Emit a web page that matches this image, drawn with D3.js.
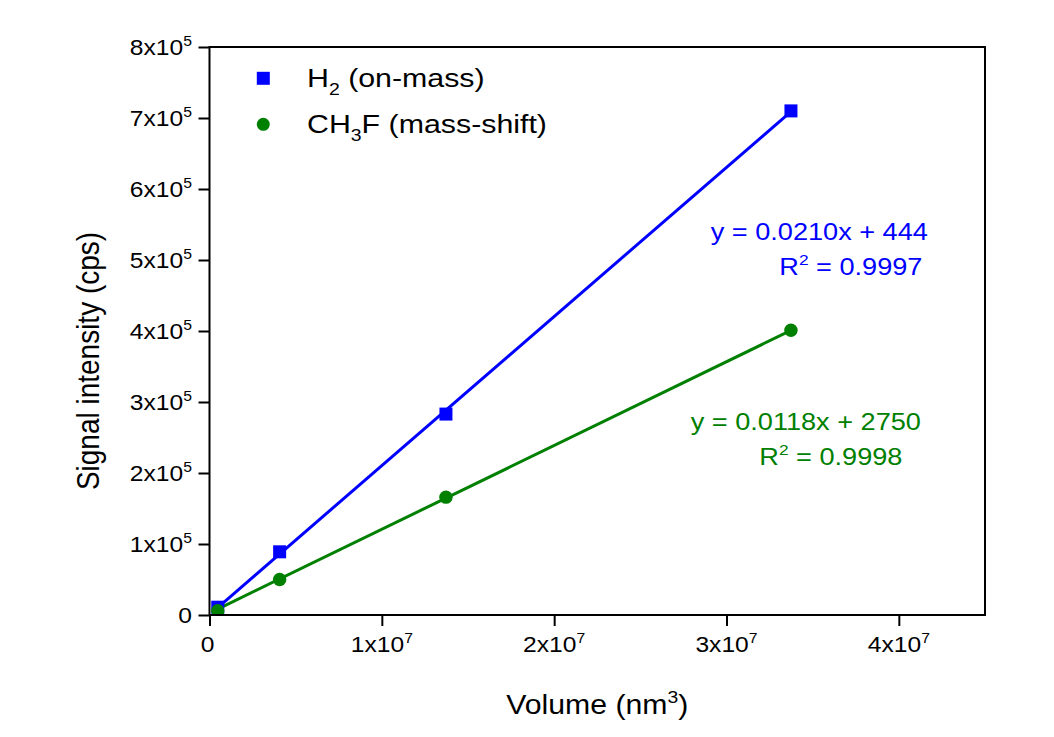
<!DOCTYPE html>
<html>
<head>
<meta charset="utf-8">
<script src="https://cdn.jsdelivr.net/npm/d3@7"></script>
<style>
  html, body { margin: 0; padding: 0; background: #ffffff; }
  svg { display: block; font-family: "Liberation Sans", Arial, Helvetica, sans-serif; }
</style>
</head>
<body>
<svg id="chart" width="1054" height="737"></svg>
<script>
// ---- data ----
const volumes = [4.8e5, 4.07e6, 1.372e7, 3.374e7];          // nm^3
const h2Signal = [1.1e4, 8.9e4, 2.83e5, 7.10e5];            // cps, H2 on-mass
const ch3fSignal = [6.0e3, 5.0e4, 1.66e5, 4.01e5];          // cps, CH3F mass-shift

const seriesNames = ["H2 (on-mass)", "CH3F (mass-shift)"];
const fitSlopes = [0.0210, 0.0118];
const fitIntercepts = [444, 2750];
const fitR2 = [0.9997, 0.9998];

const xTicks = [0, 1e7, 2e7, 3e7, 4e7];
const yTicks = [0, 1e5, 2e5, 3e5, 4e5, 5e5, 6e5, 7e5, 8e5];

// ---- layout ----
const W = 1054, H = 737;
const plot = { left: 209.5, right: 985, top: 47, bottom: 615 };
const colors = ["#0000ff", "#008000"];
const svg = d3.select("#chart");
svg.append("rect").attr("width", W).attr("height", H).attr("fill", "#ffffff");

const x = d3.scaleLinear().domain([0, 4.5e7]).range([plot.left, plot.right]);
const y = d3.scaleLinear().domain([0, 8e5]).range([plot.bottom, plot.top]);

// text with super/subscript parts; glyphs can be widened (sx) or heightened (sy)
function richText(parent, px, py, opt, parts) {
  const rot = opt.rotate ? ` rotate(${opt.rotate})` : "";
  const t = parent.append("text")
    .attr("transform", `translate(${px},${py})${rot} scale(${opt.sx || 1},${opt.sy || 1})`)
    .attr("text-anchor", opt.anchor || "start")
    .attr("font-size", opt.size)
    .attr("fill", opt.color || "#000");
  let shift = 0;
  parts.forEach(p => {
    const s = t.append("tspan").text(p.text);
    const target = p.sup ? -opt.size * 0.42 : p.sub ? opt.size * 0.32 : 0;
    if (target - shift !== 0) s.attr("dy", target - shift);
    shift = target;
    if (p.sup || p.sub) s.attr("font-size", opt.size * 0.64);
  });
  return t;
}

function sciParts(v) {
  if (v === 0) return [{ text: "0" }];
  const e = Math.floor(Math.log10(v));
  const m = Math.round(v / Math.pow(10, e));
  return [{ text: m + "x10" }, { text: String(e), sup: true }];
}

// ---- axes ----
const tickLen = 11;
const xAxis = d3.axisBottom(x).tickValues(xTicks).tickSize(tickLen).tickSizeOuter(0).tickFormat(() => "");
const yAxis = d3.axisLeft(y).tickValues(yTicks).tickSize(tickLen).tickSizeOuter(0).tickFormat(() => "");

const gx = svg.append("g").attr("transform", `translate(0,${plot.bottom})`).call(xAxis);
const gy = svg.append("g").attr("transform", `translate(${plot.left},0)`).call(yAxis);
[gx, gy].forEach(g => {
  g.select(".domain").remove();
  g.selectAll(".tick line").attr("stroke", "#000").attr("stroke-width", 2);
});

const tickFont = { size: 22, sx: 1.12 };
xTicks.forEach(v => {
  richText(svg, x(v) + (v === 0 ? -2 : 0), 652, { ...tickFont, anchor: "middle" }, sciParts(v));
});
yTicks.forEach(v => {
  richText(svg, 192, y(v) + 8, { ...tickFont, anchor: "end" }, sciParts(v));
});

// axis titles
richText(svg, (plot.left + plot.right) / 2, 714, { size: 27, sx: 1.12, anchor: "middle" },
  [{ text: "Volume (nm" }, { text: "3", sup: true }, { text: ")" }]);
richText(svg, 99, 361, { size: 28, sy: 1.15, anchor: "middle", rotate: -90 },
  [{ text: "Signal intensity (cps)" }]);

// ---- data marks ----
svg.append("clipPath").attr("id", "plotClip").append("rect")
  .attr("x", plot.left).attr("y", plot.top)
  .attr("width", plot.right - plot.left).attr("height", plot.bottom - plot.top);
const dataG = svg.append("g").attr("clip-path", "url(#plotClip)");

const xMin = d3.min(volumes), xMax = d3.max(volumes);
[0, 1].forEach(i => {
  const fitLine = [xMin, xMax].map(v => [v, fitSlopes[i] * v + fitIntercepts[i]]);
  dataG.append("path")
    .attr("d", d3.line().x(d => x(d[0])).y(d => y(d[1]))(fitLine))
    .attr("fill", "none").attr("stroke", colors[i]).attr("stroke-width", 3);
});

const sq = 13;
dataG.selectAll("rect.h2").data(volumes).join("rect").attr("class", "h2")
  .attr("x", (d) => x(d) - sq / 2)
  .attr("y", (d, i) => y(h2Signal[i]) - sq / 2)
  .attr("width", sq).attr("height", sq).attr("fill", colors[0]);
dataG.selectAll("circle.ch3f").data(volumes).join("circle").attr("class", "ch3f")
  .attr("cx", d => x(d)).attr("cy", (d, i) => y(ch3fSignal[i]))
  .attr("r", 6.7).attr("fill", colors[1]);

// ---- frame ----
svg.append("rect")
  .attr("x", plot.left).attr("y", plot.top)
  .attr("width", plot.right - plot.left).attr("height", plot.bottom - plot.top)
  .attr("fill", "none").attr("stroke", "#000").attr("stroke-width", 2);

// ---- legend ----
const legOpt = { size: 25.5, sx: 1.19 };
svg.append("rect").attr("x", 263.3 - sq / 2).attr("y", 78.3 - sq / 2)
  .attr("width", sq).attr("height", sq).attr("fill", colors[0]);
richText(svg, 307, 86.7, legOpt, [{ text: "H" }, { text: "2", sub: true }, { text: " (on-mass)" }]);
svg.append("circle").attr("cx", 263.3).attr("cy", 124.3).attr("r", 6.5).attr("fill", colors[1]);
richText(svg, 307, 132.7, legOpt, [{ text: "CH" }, { text: "3", sub: true }, { text: "F (mass-shift)" }]);

// ---- fit equations ----
const eqOpt = { size: 23, sx: 1.18 };
const eqPos = [
  { eq: [710.7, 239.5], r2: [779.3, 275] },
  { eq: [690.7, 429.5], r2: [759.3, 465] }
];
[0, 1].forEach(i => {
  const sign = fitIntercepts[i] >= 0 ? "+" : "-";
  richText(svg, eqPos[i].eq[0], eqPos[i].eq[1], { ...eqOpt, color: colors[i] },
    [{ text: `y = ${fitSlopes[i].toFixed(4)}x ${sign} ${Math.abs(fitIntercepts[i])}` }]);
  richText(svg, eqPos[i].r2[0], eqPos[i].r2[1], { ...eqOpt, color: colors[i] },
    [{ text: "R" }, { text: "2", sup: true }, { text: ` = ${fitR2[i].toFixed(4)}` }]);
});
</script>
</body>
</html>
